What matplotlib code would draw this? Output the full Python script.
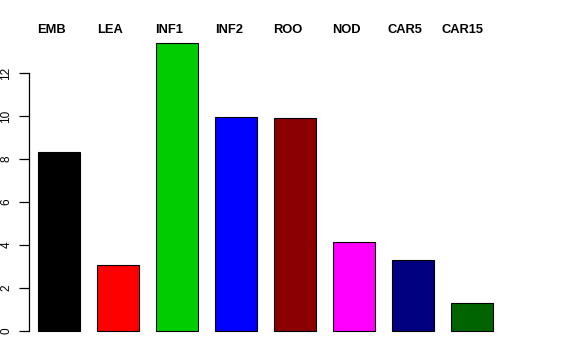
import matplotlib
matplotlib.use("Agg")
import matplotlib.pyplot as plt
import numpy as np

categories = ["EMB", "LEA", "INF1", "INF2", "ROO", "NOD", "CAR5", "CAR15"]
values = [8.33, 3.07, 13.4, 9.95, 9.91, 4.14, 3.3, 1.30]
colors = ["#000000", "#FF0000", "#00CD00", "#0000FF", "#8B0000", "#FF00FF", "#000080", "#006400"]
yticks = [0, 2, 4, 6, 8, 10, 12]
label_x_px = [37, 97, 155, 215, 273, 332, 387, 442]

W, H = 576, 360
fig = plt.figure(figsize=(W / 100, H / 100), dpi=100)
plt.rcParams['font.family'] = ['Liberation Sans', 'DejaVu Sans']

# axes in pixel coordinates
x_left_px, px_per_x = 29.0, 59.0
ylo, yhi = -0.536, 13.936
y0_px, px_per_y = 331, 21.5
xlim = (0, 8.4)
ax_w = (xlim[1] - xlim[0]) * px_per_x
ax_bottom_px = y0_px - ylo * px_per_y
ax_top_px = y0_px - yhi * px_per_y
ax = fig.add_axes([x_left_px / W, 1 - ax_bottom_px / H, ax_w / W, (ax_bottom_px - ax_top_px) / H])

pos = 0.51 + np.arange(len(values))
ax.bar(pos, values, width=0.71, color=colors, edgecolor="black", linewidth=0.8)
ax.set_xlim(*xlim)
ax.set_ylim(ylo, yhi)

for s in ["top", "right", "bottom"]:
    ax.spines[s].set_visible(False)
ax.spines["left"].set_bounds(0, 12)
ax.spines["left"].set_linewidth(0.9)
ax.set_xticks([])
ax.set_yticks(yticks)
ax.set_yticklabels([str(t) for t in yticks], rotation=90, va="center", fontsize=8.5)
ax.tick_params(axis="y", length=7.5, width=0.9, pad=4.5)

for lab, xp in zip(categories, label_x_px):
    fig.text(xp / W, 1 - 30 / H, lab, ha="left", va="center", fontsize=9.3, fontweight="bold")

fig.savefig("out.png", dpi=100)
